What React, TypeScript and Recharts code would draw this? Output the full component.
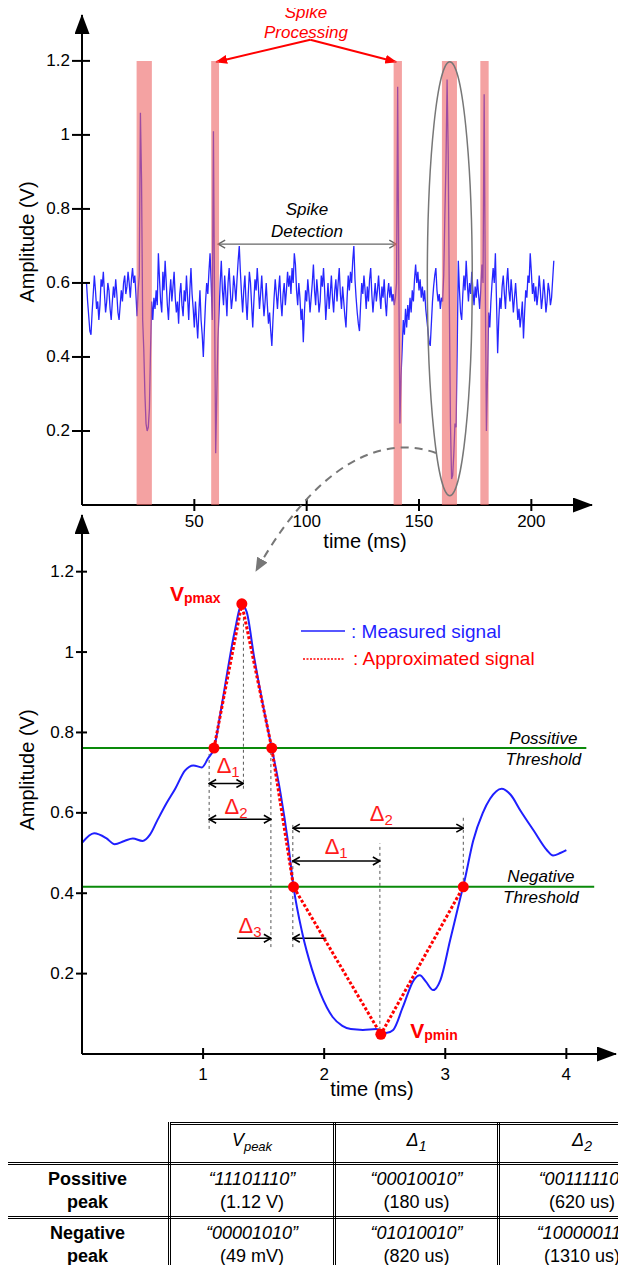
import React from 'react';
import { LineChart, Line, XAxis, YAxis, ReferenceArea, ReferenceLine, ReferenceDot } from 'recharts';

const FONT = '"Liberation Sans", Arial, Helvetica, sans-serif';

// ---------- top panel: recorded trace (one sample every 0.5 ms, from 2 ms) ----------
const traceStart = 2;
const traceStep = 0.5;
const traceAmp = [
  0.60, 0.55, 0.51, 0.47, 0.46, 0.52, 0.57, 0.62, 0.58, 0.53, 0.55, 0.50, 0.54, 0.61, 0.59, 0.63, 0.57, 0.52, 0.55, 0.60,
  0.58, 0.53, 0.50, 0.55, 0.59, 0.56, 0.61, 0.57, 0.52, 0.50, 0.54, 0.58, 0.55, 0.60, 0.62, 0.57, 0.59, 0.63, 0.60, 0.56,
  0.61, 0.64, 0.60, 0.62, 0.57, 0.51, 0.58, 0.62, 1.06, 0.88, 0.50, 0.42, 0.30, 0.22, 0.20, 0.21, 0.26, 0.42, 0.55, 0.50,
  0.56, 0.53, 0.58, 0.54, 0.68, 0.61, 0.55, 0.52, 0.63, 0.58, 0.66, 0.60, 0.54, 0.50, 0.57, 0.61, 0.55, 0.59, 0.63, 0.56,
  0.52, 0.55, 0.49, 0.57, 0.60, 0.54, 0.51, 0.58, 0.55, 0.62, 0.56, 0.50, 0.58, 0.64, 0.57, 0.53, 0.48, 0.55, 0.50, 0.45,
  0.52, 0.58, 0.50, 0.46, 0.40, 0.48, 0.55, 0.60, 0.57, 0.63, 0.68, 0.60, 0.50, 1.01, 0.55, 0.14, 0.30, 0.45, 0.52, 0.60,
  0.66, 0.58, 0.54, 0.62, 0.57, 0.51, 0.60, 0.64, 0.58, 0.53, 0.56, 0.62, 0.59, 0.55, 0.61, 0.66, 0.70, 0.63, 0.57, 0.52,
  0.58, 0.62, 0.55, 0.50, 0.57, 0.63, 0.60, 0.54, 0.48, 0.55, 0.61, 0.58, 0.64, 0.59, 0.53, 0.57, 0.62, 0.56, 0.51, 0.55,
  0.60, 0.54, 0.49, 0.52, 0.47, 0.43, 0.50, 0.56, 0.61, 0.57, 0.53, 0.58, 0.62, 0.55, 0.51, 0.57, 0.60, 0.54, 0.58, 0.63,
  0.59, 0.62, 0.57, 0.64, 0.60, 0.68, 0.65, 0.58, 0.54, 0.60, 0.56, 0.50, 0.53, 0.44, 0.52, 0.58, 0.55, 0.61, 0.57, 0.52,
  0.56, 0.60, 0.65, 0.58, 0.54, 0.61, 0.57, 0.52, 0.55, 0.62, 0.59, 0.64, 0.58, 0.50, 0.55, 0.60, 0.53, 0.57, 0.62, 0.56,
  0.52, 0.58, 0.61, 0.55, 0.60, 0.64, 0.57, 0.53, 0.59, 0.55, 0.51, 0.48, 0.56, 0.62, 0.58, 0.63, 0.60, 0.66, 0.70, 0.61,
  0.56, 0.52, 0.49, 0.47, 0.54, 0.60, 0.57, 0.62, 0.58, 0.53, 0.59, 0.55, 0.61, 0.64, 0.57, 0.52, 0.56, 0.60, 0.55, 0.58,
  0.62, 0.57, 0.53, 0.59, 0.56, 0.61, 0.55, 0.51, 0.57, 0.60, 0.56, 0.59, 0.55, 0.57, 0.54, 0.56, 0.60, 1.13, 0.62, 0.22,
  0.35, 0.42, 0.50, 0.46, 0.53, 0.48, 0.54, 0.50, 0.56, 0.52, 0.58, 0.55, 0.61, 0.65, 0.60, 0.63, 0.58, 0.61, 0.56, 0.59,
  0.55, 0.58, 0.53, 0.50, 0.47, 0.44, 0.43, 0.49, 0.55, 0.59, 0.62, 0.64, 0.58, 0.55, 0.57, 0.53, 0.56, 0.55, 0.62, 0.78,
  0.92, 1.15, 0.95, 0.55, 0.22, 0.07, 0.08, 0.14, 0.22, 0.21, 0.42, 0.66, 0.58, 0.52, 0.50, 0.57, 0.62, 0.58, 0.66, 0.60,
  0.55, 0.60, 0.57, 0.63, 0.58, 0.54, 0.59, 0.56, 0.61, 0.57, 0.53, 0.58, 0.65, 0.60, 1.11, 0.60, 0.20, 0.35, 0.52, 0.48,
  0.55, 0.60, 0.64, 0.60, 0.68, 0.55, 0.41, 0.50, 0.56, 0.53, 0.59, 0.62, 0.57, 0.53, 0.60, 0.64, 0.58, 0.55, 0.61, 0.57,
  0.52, 0.56, 0.60, 0.55, 0.50, 0.53, 0.48, 0.51, 0.55, 0.45, 0.52, 0.58, 0.56, 0.62, 0.60, 0.68, 0.63, 0.57, 0.60, 0.55,
  0.59, 0.54, 0.57, 0.62, 0.58, 0.53, 0.56, 0.61, 0.57, 0.52, 0.55, 0.60, 0.58, 0.54, 0.56, 0.61, 0.66,
];

// shaded "spike processing" windows (ms)
const spikeWinStart = [24.3, 57.5, 138.7, 160.2, 177.3];
const spikeWinEnd = [31.1, 61.0, 142.4, 166.9, 181.0];
const topXTicks = [50, 100, 150, 200];
const ampTicks = [0.2, 0.4, 0.6, 0.8, 1, 1.2];

// ---------- bottom panel: one spike ----------
const measuredT = [0, 0.1, 0.2, 0.27, 0.35, 0.42, 0.5, 0.56, 0.62, 0.7, 0.77, 0.85, 0.92, 0.99, 1.04, 1.09, 1.15, 1.2, 1.26, 1.32,
  1.36, 1.42, 1.5, 1.567, 1.64, 1.7, 1.747, 1.82, 1.9, 1.97, 2.07, 2.15, 2.22, 2.32, 2.43, 2.51, 2.57, 2.65, 2.74, 2.79,
  2.84, 2.9, 2.96, 3.04, 3.12, 3.16, 3.23, 3.31, 3.37, 3.465, 3.54, 3.62, 3.73, 3.84, 3.89, 3.95, 4.0];
const measuredV = [0.525, 0.549, 0.537, 0.522, 0.53, 0.536, 0.53, 0.545, 0.58, 0.625, 0.66, 0.705, 0.718, 0.713, 0.735, 0.761, 0.86, 0.95, 1.05, 1.118,
  1.10, 0.99, 0.86, 0.761, 0.648, 0.53, 0.416, 0.30, 0.21, 0.15, 0.092, 0.07, 0.062, 0.06, 0.062, 0.052, 0.06, 0.117, 0.184, 0.196,
  0.18, 0.159, 0.184, 0.283, 0.383, 0.432, 0.53, 0.6, 0.635, 0.66, 0.645, 0.606, 0.556, 0.507, 0.494, 0.5, 0.507];
const approxT = [1.09, 1.32, 1.567, 1.747, 2.468, 3.149];
const approxV = [0.761, 1.12, 0.761, 0.416, 0.049, 0.416];
const posThreshold = 0.761;
const negThreshold = 0.416;
const bottomXTicks = [1, 2, 3, 4];

// table
const tableHeads = ['peak', '1', '2'];
const rowNames = [['Possitive', 'peak'], ['Negative', 'peak']];
const posCodes = ['\u201c11101110\u201d', '\u201c00010010\u201d', '\u201c00111110\u201d'];
const posValues = ['(1.12 V)', '(180 us)', '(620 us)'];
const negCodes = ['\u201c00001010\u201d', '\u201c01010010\u201d', '\u201c10000011\u201d'];
const negValues = ['(49 mV)', '(820 us)', '(1310 us)'];

const traceData = traceAmp.map((v, i) => ({ t: traceStart + i * traceStep, v }));
const measuredData = measuredT.map((t, i) => ({ t, v: measuredV[i] }));
const approxData = approxT.map((t, i) => ({ t, v: approxV[i] }));

// annotation geometry (in data units of the bottom panel)
const guides = [
  { t: 1.05, a: 0.56, b: 0.75 },
  { t: 1.333, a: 0.66, b: 1.11 },
  { t: 1.56, a: 0.266, b: 0.75 },
  { t: 1.741, a: 0.266, b: 0.57 },
  { t: 2.46, a: 0.06, b: 0.524 },
  { t: 3.149, a: 0.416, b: 0.589 },
];
const spans = [
  { t1: 1.05, t2: 1.333, v: 0.673, both: true },
  { t1: 1.05, t2: 1.56, v: 0.584, both: true },
  { t1: 1.741, t2: 3.149, v: 0.562, both: true },
  { t1: 1.741, t2: 2.46, v: 0.48, both: true },
  { t1: 1.281, t2: 1.56, v: 0.288, both: false },
  { t1: 2.017, t2: 1.741, v: 0.288, both: false },
];
const deltaMarks = [
  { t: 1.207, v: 0.711, sub: '1' },
  { t: 1.273, v: 0.609, sub: '2' },
  { t: 2.471, v: 0.591, sub: '2' },
  { t: 2.099, v: 0.509, sub: '1' },
  { t: 1.388, v: 0.313, sub: '3' },
];

const makeYTick = (left: number, right: number, gap: number) => (p: any) => (
  <g>
    <line x1={p.x - left} x2={p.x + right} y1={p.y} y2={p.y} stroke="#000" strokeWidth={2} />
    <text x={p.x - gap} y={p.y} textAnchor="end" dominantBaseline="central" fontSize={17} fontFamily={FONT} fill="#000">
      {p.payload.value}
    </text>
  </g>
);

const makeXTick = (up: number, down: number, dy: number) => (p: any) => (
  <g>
    <line x1={p.x} x2={p.x} y1={p.y - up} y2={p.y + down} stroke="#000" strokeWidth={2} />
    <text x={p.x} y={p.y + dy} textAnchor="middle" dominantBaseline="central" fontSize={17} fontFamily={FONT} fill="#000">
      {p.payload.value}
    </text>
  </g>
);

const Seg = (stroke: string, width: number, opts: { dash?: string; start?: string; end?: string } = {}) => (p: any) => (
  <line
    x1={p.x1}
    y1={p.y1}
    x2={p.x2}
    y2={p.y2}
    stroke={stroke}
    strokeWidth={width}
    strokeDasharray={opts.dash}
    markerStart={opts.start}
    markerEnd={opts.end}
  />
);

const DeltaMark = ({ cx, cy, sub }: any) => (
  <text x={cx} y={cy - 3} textAnchor="middle" dominantBaseline="central" fill="#ff1a1a" fontFamily={FONT} fontSize={22}>
    Δ<tspan fontSize={15} dy={6}>{sub}</tspan>
  </text>
);

const PeakMark = ({ cx, cy, sub }: any) => (
  <text x={cx} y={cy} fill="#ff0000" fontWeight="bold" fontFamily={FONT} fontSize={21}>
    V<tspan fontSize={14} dy={2}>{sub}</tspan>
  </text>
);

const ThresholdNote = ({ cx, cy, word }: any) => (
  <g fontStyle="italic" fontSize={17} fontFamily={FONT} fill="#000">
    <text x={cx} y={cy - 10} textAnchor="middle" dominantBaseline="central">{word}</text>
    <text x={cx} y={cy + 11} textAnchor="middle" dominantBaseline="central">Threshold</text>
  </g>
);

const axisLine = { stroke: '#000', strokeWidth: 2 };

const cell: React.CSSProperties = {
  border: '3px double #000',
  textAlign: 'center',
  verticalAlign: 'middle',
  padding: 0,
  lineHeight: '23px',
};

export default function App() {
  return (
    <div style={{ position: 'relative', width: 626, height: 1273, overflow: 'hidden', margin: -8, background: '#fff', fontFamily: FONT }}>
      <svg width={0} height={0} style={{ position: 'absolute' }}>
        <defs>
          <marker id="axisHead" viewBox="0 0 20 15" refX={19} refY={7.5} markerWidth={20} markerHeight={15} markerUnits="userSpaceOnUse" orient="auto-start-reverse">
            <path d="M0,0 L20,7.5 L0,15 z" fill="#000" />
          </marker>
          <marker id="redHead" viewBox="0 0 12 9" refX={11} refY={4.5} markerWidth={12} markerHeight={9} markerUnits="userSpaceOnUse" orient="auto-start-reverse">
            <path d="M0,0 L12,4.5 L0,9 z" fill="#ff0000" />
          </marker>
          <marker id="blackOpen" viewBox="0 0 10 10" refX={9} refY={5} markerWidth={10} markerHeight={10} markerUnits="userSpaceOnUse" orient="auto-start-reverse">
            <path d="M2,1 L9,5 L2,9" fill="none" stroke="#000" strokeWidth={1.6} />
          </marker>
          <marker id="grayOpen" viewBox="0 0 10 10" refX={9} refY={5} markerWidth={10} markerHeight={10} markerUnits="userSpaceOnUse" orient="auto-start-reverse">
            <path d="M2,1 L9,5 L2,9" fill="none" stroke="#666" strokeWidth={1.4} />
          </marker>
          <marker id="grayHead" viewBox="0 0 14 12" refX={13} refY={6} markerWidth={14} markerHeight={12} markerUnits="userSpaceOnUse" orient="auto-start-reverse">
            <path d="M0,0 L14,6 L0,12 z" fill="#777" />
          </marker>
        </defs>
      </svg>

      {/* top panel */}
      <div style={{ position: 'absolute', left: 0, top: 0 }}>
        <LineChart width={626} height={560} data={traceData} margin={{ top: 15, right: 34, bottom: 25, left: 22 }}>
          <XAxis
            dataKey="t"
            type="number"
            domain={[0, 227]}
            ticks={topXTicks}
            tickSize={0}
            tickMargin={0}
            tickLine={false}
            axisLine={{ ...axisLine, markerEnd: 'url(#axisHead)' }}
            tick={makeXTick(6, 6, 16)}
            height={30}
          />
          <YAxis
            type="number"
            domain={[0, 1.324]}
            ticks={ampTicks}
            tickSize={0}
            tickMargin={0}
            tickLine={false}
            axisLine={{ ...axisLine, markerStart: 'url(#axisHead)' }}
            tick={makeYTick(10, 8, 12)}
            width={60}
          />
          <Line dataKey="v" type="linear" stroke="#2626ff" strokeWidth={1.3} dot={false} isAnimationActive={false} />
          {spikeWinStart.map((s, i) => (
            <ReferenceArea key={i} x1={s} x2={spikeWinEnd[i]} y1={0} y2={1.2} fill="#ec6464" fillOpacity={0.6} stroke="none" zIndex={1000} />
          ))}
          <ReferenceArea
            x1={153.7}
            x2={173.7}
            y1={0.025}
            y2={1.198}
            zIndex={1100}
            shape={(p: any) => (
              <ellipse cx={p.x + p.width / 2} cy={p.y + p.height / 2} rx={p.width / 2} ry={p.height / 2} fill="none" stroke="#777" strokeWidth={1.5} />
            )}
          />
          <ReferenceLine segment={[{ x: 101.6, y: 1.257 }, { x: 59.7, y: 1.197 }]} shape={Seg('#ff0000', 2, { end: 'url(#redHead)' })} />
          <ReferenceLine segment={[{ x: 101.6, y: 1.257 }, { x: 139.9, y: 1.197 }]} shape={Seg('#ff0000', 2, { end: 'url(#redHead)' })} />
          <ReferenceLine
            segment={[{ x: 60.6, y: 0.705 }, { x: 139.9, y: 0.705 }]}
            shape={Seg('#666', 1.4, { start: 'url(#grayOpen)', end: 'url(#grayOpen)' })}
          />
        </LineChart>
      </div>

      {/* bottom panel */}
      <div style={{ position: 'absolute', left: 0, top: 500 }}>
        <LineChart width={626} height={600} margin={{ top: 15, right: 10, bottom: 16, left: 22 }}>
          <XAxis
            dataKey="t"
            type="number"
            domain={[0, 4.41]}
            ticks={bottomXTicks}
            tickSize={0}
            tickMargin={0}
            tickLine={false}
            axisLine={{ ...axisLine, markerEnd: 'url(#axisHead)' }}
            tick={makeXTick(6, 5, 20)}
            height={30}
          />
          <YAxis
            type="number"
            domain={[0, 1.341]}
            ticks={ampTicks}
            tickSize={0}
            tickMargin={0}
            tickLine={false}
            axisLine={{ ...axisLine, markerStart: 'url(#axisHead)' }}
            tick={makeYTick(6, 5, 8)}
            width={60}
          />
          <ReferenceLine segment={[{ x: 0, y: posThreshold }, { x: 4.165, y: posThreshold }]} shape={Seg('#0a8a0a', 2)} />
          <ReferenceLine segment={[{ x: 0, y: negThreshold }, { x: 4.23, y: negThreshold }]} shape={Seg('#0a8a0a', 2)} />
          {guides.map((g, i) => (
            <ReferenceLine key={'g' + i} segment={[{ x: g.t, y: g.a }, { x: g.t, y: g.b }]} shape={Seg('#555', 1, { dash: '3 3' })} />
          ))}
          {spans.map((s, i) => (
            <ReferenceLine
              key={'s' + i}
              segment={[{ x: s.t1, y: s.v }, { x: s.t2, y: s.v }]}
              shape={Seg('#000', 1.6, { start: s.both ? 'url(#blackOpen)' : undefined, end: 'url(#blackOpen)' })}
            />
          ))}
          <Line data={measuredData} dataKey="v" type="monotone" stroke="#1f1fff" strokeWidth={2} dot={false} isAnimationActive={false} />
          <Line
            data={approxData}
            dataKey="v"
            type="linear"
            stroke="#ff0000"
            strokeWidth={3}
            strokeDasharray="3 2"
            dot={{ r: 5.5, fill: '#ff0000', stroke: 'none', strokeDasharray: '0' }}
            isAnimationActive={false}
          />
          {deltaMarks.map((d, i) => (
            <ReferenceDot key={'d' + i} x={d.t} y={d.v} r={1} shape={(p: any) => <DeltaMark cx={p.cx} cy={p.cy} sub={d.sub} />} />
          ))}
          <ReferenceDot x={0.727} y={1.128} r={1} shape={(p: any) => <PeakMark cx={p.cx} cy={p.cy} sub="pmax" />} />
          <ReferenceDot x={2.711} y={0.04} r={1} shape={(p: any) => <PeakMark cx={p.cx} cy={p.cy} sub="pmin" />} />
          <ReferenceDot x={3.81} y={posThreshold} r={1} shape={(p: any) => <ThresholdNote cx={p.cx} cy={p.cy} word="Possitive" />} />
          <ReferenceDot x={3.79} y={negThreshold} r={1} shape={(p: any) => <ThresholdNote cx={p.cx} cy={p.cy} word="Negative" />} />
        </LineChart>
      </div>

      {/* titles, legend and the connector between the panels */}
      <svg width={626} height={1273} style={{ position: 'absolute', left: 0, top: 0, pointerEvents: 'none' }} fontFamily={FONT}>
        <text transform="translate(27,242) rotate(-90)" textAnchor="middle" dominantBaseline="central" fontSize={20}>Amplitude (V)</text>
        <text x={365} y={541} textAnchor="middle" dominantBaseline="central" fontSize={20}>time (ms)</text>
        <text transform="translate(27,770) rotate(-90)" textAnchor="middle" dominantBaseline="central" fontSize={20}>Amplitude (V)</text>
        <text x={372} y={1089} textAnchor="middle" dominantBaseline="central" fontSize={20}>time (ms)</text>

        <g fontStyle="italic" fontSize={17} fill="#ff0000" textAnchor="middle">
          <text x={306} y={18}>Spike</text>
          <text x={306} y={38}>Processing</text>
        </g>
        <g fontStyle="italic" fontSize={17} fill="#000" textAnchor="middle">
          <text x={307} y={215}>Spike</text>
          <text x={307} y={237}>Detection</text>
        </g>

        <path d="M436,453 C400,440 330,440 256,571" fill="none" stroke="#777" strokeWidth={2} strokeDasharray="8 6" markerEnd="url(#grayHead)" />

        <line x1={301} x2={345} y1={631} y2={631} stroke="#1f1fff" strokeWidth={1.6} />
        <text x={351} y={631} dominantBaseline="central" fontSize={19} fill="#1f1fff">: Measured signal</text>
        <line x1={303} x2={345} y1={659} y2={659} stroke="#ff0000" strokeWidth={1.6} strokeDasharray="2 1.5" />
        <text x={353} y={658} dominantBaseline="central" fontSize={19} fill="#ff0000">: Approximated signal</text>
      </svg>

      <table
        style={{
          position: 'absolute',
          left: 4,
          top: 1122,
          borderCollapse: 'collapse',
          tableLayout: 'fixed',
          width: 660,
          fontSize: 18,
          fontFamily: FONT,
          color: '#000',
        }}
      >
        <colgroup>
          <col style={{ width: 164 }} />
          <col style={{ width: 165 }} />
          <col style={{ width: 164 }} />
          <col style={{ width: 167 }} />
        </colgroup>
        <tbody>
          <tr style={{ height: 40 }}>
            <td style={{ ...cell, borderTop: 'none', borderLeft: 'none' }} />
            {tableHeads.map((h, i) => (
              <td key={h + i} style={cell}>
                <i>
                  {i === 0 ? 'V' : 'Δ'}
                  <sub style={{ fontSize: i === 0 ? 13 : 14 }}>{h}</sub>
                </i>
              </td>
            ))}
          </tr>
          {[posCodes, negCodes].map((codes, r) => (
            <tr key={r} style={{ height: r === 0 ? 54 : 55 }}>
              <td style={{ ...cell, fontWeight: 'bold' }}>
                {rowNames[r][0]}
                <br />
                {rowNames[r][1]}
              </td>
              {codes.map((c, i) => (
                <td key={i} style={{ ...cell, whiteSpace: 'nowrap' }}>
                  <i>{c}</i>
                  <br />
                  {(r === 0 ? posValues : negValues)[i]}
                </td>
              ))}
            </tr>
          ))}
        </tbody>
      </table>
    </div>
  );
}
